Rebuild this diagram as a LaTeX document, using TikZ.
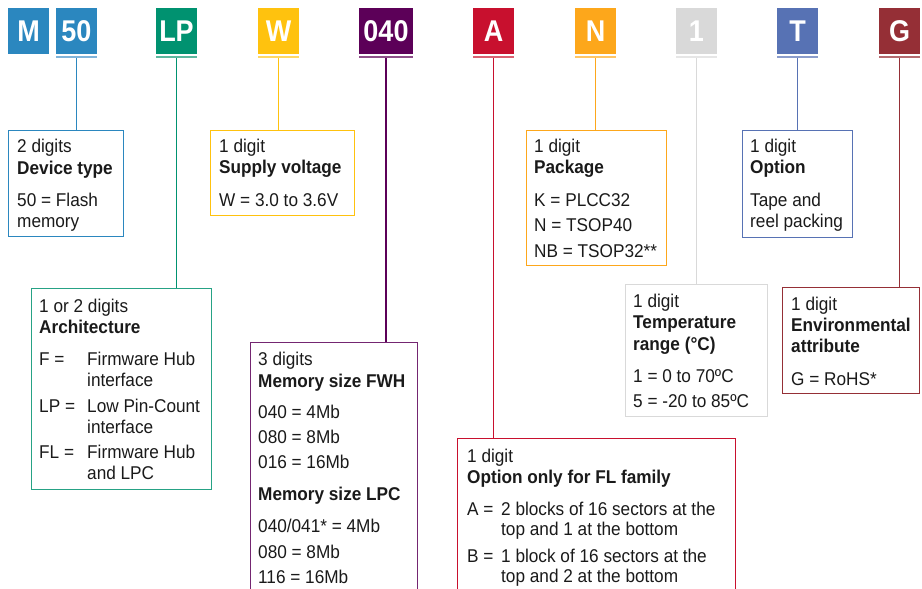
\documentclass[tikz,border=0pt]{standalone}
\usepackage{fontspec}
\setmainfont{Liberation Sans}[FakeStretch=0.93]
\newfontfamily\letfam{Liberation Sans}[FakeStretch=0.9]
\definecolor{cblue}{HTML}{2B87BF}
\definecolor{cbluel}{HTML}{80B4DA}
\definecolor{cgreen}{HTML}{009270}
\definecolor{cgreenl}{HTML}{5DB89F}
\definecolor{cyellow}{HTML}{FFC20E}
\definecolor{cyellowl}{HTML}{FFD864}
\definecolor{cpurple}{HTML}{5C0058}
\definecolor{cpurplel}{HTML}{8E5089}
\definecolor{cred}{HTML}{C8102E}
\definecolor{credl}{HTML}{DA6272}
\definecolor{corange}{HTML}{FDA71B}
\definecolor{corangel}{HTML}{FFC666}
\definecolor{cgrey}{HTML}{D9D9D9}
\definecolor{cgreyl}{HTML}{E6E6E6}
\definecolor{cslate}{HTML}{5772B4}
\definecolor{cslatel}{HTML}{8B9DCC}
\definecolor{cmaroon}{HTML}{952F36}
\definecolor{cmaroonl}{HTML}{B56C70}
\definecolor{ctext}{HTML}{1A1A1A}
\tikzset{
  lbl/.style={anchor=base west, inner sep=0pt, text=ctext, font=\fontsize{18.5}{21}\selectfont},
  hd/.style={lbl, font=\fontsize{18.5}{21}\selectfont\bfseries},
  letterbox/.style={fill=#1, minimum width=41pt, minimum height=46pt, inner sep=0pt, text=white,
    font=\letfam\bfseries\fontsize{30}{30}\selectfont, text height=21.5pt, text depth=0pt},
  barbox/.style={fill=#1, minimum width=41pt, minimum height=2.4pt, inner sep=0pt},
  infobox/.style={draw=#1, line width=1.2pt, inner sep=0pt, anchor=north west},
  conn/.style={draw=#1, line width=1.4pt},
}
\begin{document}
\begin{tikzpicture}[x=1pt,y=-1pt]
\clip (0,0) rectangle (922,589);
\fill[white] (0,0) rectangle (922,589);
% code letters
\node[letterbox=cblue] (kM) at (28.5,31) {M};
\node[letterbox=cblue] (k50) at (76.5,31) {50};
\node[letterbox=cgreen] (kLP) at (176.5,31) {LP};
\node[letterbox=cyellow] (kW) at (278.5,31) {W};
\node[letterbox=cpurple, minimum width=54pt] (k040) at (386,31) {040};
\node[letterbox=cred] (kA) at (493.5,31) {A};
\node[letterbox=corange] (kN) at (595.5,31) {N};
\node[letterbox=cgrey] (k1) at (696.5,31) {1};
\node[letterbox=cslate] (kT) at (797.5,31) {T};
\node[letterbox=cmaroon] (kG) at (899.5,31) {G};
% bars
\node[barbox=cbluel] (b50) at (76.5,57) {};
\node[barbox=cgreenl] (bLP) at (176.5,57) {};
\node[barbox=cyellowl] (bW) at (278.5,57) {};
\node[barbox=cpurplel, minimum width=54pt] (b040) at (386,57) {};
\node[barbox=credl] (bA) at (493.5,57) {};
\node[barbox=corangel] (bN) at (595.5,57) {};
\node[barbox=cgreyl] (b1) at (696.5,57) {};
\node[barbox=cslatel] (bT) at (797.5,57) {};
\node[barbox=cmaroonl] (bG) at (899.5,57) {};
% boxes
\node[infobox=cblue, minimum width=115pt, minimum height=106pt] (dev) at (8,130) {};
\node[infobox=cyellow, minimum width=144pt, minimum height=85pt] (sup) at (210,130) {};
\node[infobox=cgreen!85, minimum width=180pt, minimum height=201pt] (arch) at (31,288) {};
\node[infobox=cpurple!85, minimum width=167pt, minimum height=280pt] (mem) at (250,342) {};
\node[infobox=corange, minimum width=140pt, minimum height=135pt] (pack) at (526,130) {};
\node[infobox=cslate, minimum width=110pt, minimum height=107pt] (opt) at (742,130) {};
\node[infobox=cgrey, minimum width=142pt, minimum height=132pt] (temp) at (625,284) {};
\node[infobox=cmaroon, minimum width=137pt, minimum height=106pt] (env) at (782,287) {};
\node[infobox=cred, minimum width=278pt, minimum height=180pt] (optfl) at (457,438) {};
% connectors
\draw[conn=cblue] (b50.south) -- (b50.south |- dev.north);
\draw[conn=cgreen] (bLP.south) -- (bLP.south |- arch.north);
\draw[conn=cyellow] (bW.south) -- (bW.south |- sup.north);
\draw[conn=cpurple] (b040.south) -- (b040.south |- mem.north);
\draw[conn=cred] (bA.south) -- (bA.south |- optfl.north);
\draw[conn=corange] (bN.south) -- (bN.south |- pack.north);
\draw[conn=cgrey] (b1.south) -- (b1.south |- temp.north);
\draw[conn=cslate] (bT.south) -- (bT.south |- opt.north);
\draw[conn=cmaroon] (bG.south) -- (bG.south |- env.north);
% device type
\node[lbl] (d1) at (17,152) {2 digits};
\node[hd] (d2) at (17,174) {Device type};
\node[lbl] (d3) at (17,206) {50 = Flash};
\node[lbl] (d4) at (17,227) {memory};
% supply
\node[lbl] (s1) at (219,152) {1 digit};
\node[hd] (s2) at (219,173) {Supply voltage};
\node[lbl] (s3) at (219,206) {W = 3.0 to 3.6V};
% architecture
\node[lbl] (a1) at (39,312) {1 or 2 digits};
\node[hd] (a2) at (39,333) {Architecture};
\node[lbl] (a3) at (39,365) {F =};
\node[lbl] (a4) at (87,365) {Firmware Hub};
\node[lbl] (a5) at (87,386) {interface};
\node[lbl] (a6) at (39,412) {LP =};
\node[lbl] (a7) at (87,412) {Low Pin-Count};
\node[lbl] (a8) at (87,433) {interface};
\node[lbl] (a9) at (39,458) {FL =};
\node[lbl] (a10) at (87,458) {Firmware Hub};
\node[lbl] (a11) at (87,479) {and LPC};
% memory
\node[lbl] (m1) at (258,365) {3 digits};
\node[hd] (m2) at (258,387) {Memory size FWH};
\node[lbl] (m3) at (258,418) {040 = 4Mb};
\node[lbl] (m4) at (258,443) {080 = 8Mb};
\node[lbl] (m5) at (258,468) {016 = 16Mb};
\node[hd] (m6) at (258,500) {Memory size LPC};
\node[lbl] (m7) at (258,532) {040/041* = 4Mb};
\node[lbl] (m8) at (258,558) {080 = 8Mb};
\node[lbl] (m9) at (258,583) {116 = 16Mb};
% package
\node[lbl] (p1) at (534,152) {1 digit};
\node[hd] (p2) at (534,173) {Package};
\node[lbl] (p3) at (534,206) {K = PLCC32};
\node[lbl] (p4) at (534,231) {N = TSOP40};
\node[lbl] (p5) at (534,257) {NB = TSOP32**};
% option
\node[lbl] (o1) at (750,152) {1 digit};
\node[hd] (o2) at (750,173) {Option};
\node[lbl] (o3) at (750,206) {Tape and};
\node[lbl] (o4) at (750,227) {reel packing};
% temperature
\node[lbl] (t1) at (633,307) {1 digit};
\node[hd] (t2) at (633,328) {Temperature};
\node[hd] (t3) at (633,350) {range (°C)};
\node[lbl] (t4) at (633,382) {1 = 0 to 70ºC};
\node[lbl] (t5) at (633,407) {5 = -20 to 85ºC};
% environmental
\node[lbl] (e1) at (791,310) {1 digit};
\node[hd] (e2) at (791,331) {Environmental};
\node[hd] (e3) at (791,352) {attribute};
\node[lbl] (e4) at (791,385) {G = RoHS*};
% option FL
\node[lbl] (f1) at (467,462) {1 digit};
\node[hd] (f2) at (467,483) {Option only for FL family};
\node[lbl] (f3) at (467,515) {A =};
\node[lbl] (f4) at (501,515) {2 blocks of 16 sectors at the};
\node[lbl] (f5) at (501,535) {top and 1 at the bottom};
\node[lbl] (f6) at (467,562) {B =};
\node[lbl] (f7) at (501,562) {1 block of 16 sectors at the};
\node[lbl] (f8) at (501,582) {top and 2 at the bottom};
\end{tikzpicture}
\end{document}
